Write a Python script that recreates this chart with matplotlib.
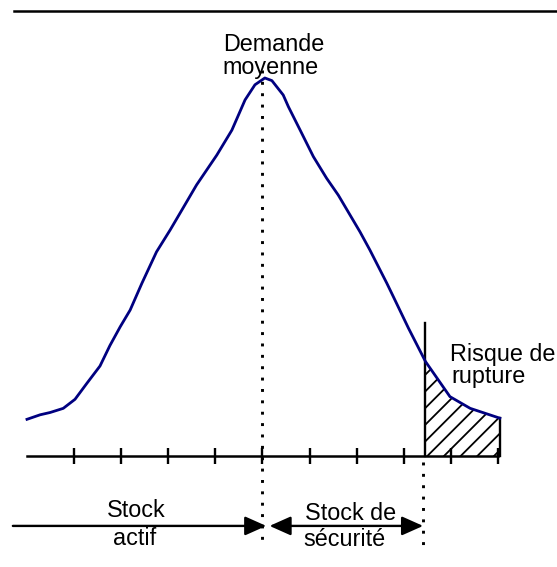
import numpy as np
import matplotlib
matplotlib.use('Agg')
import matplotlib.pyplot as plt

# Courbe de demande (unités de stock sur x, densité relative sur y)
demand_x = [0.0, 0.28, 0.49, 0.77, 1.02, 1.27, 1.55, 1.76, 1.98, 2.19, 2.44,
            2.75, 3.04, 3.29, 3.60, 4.03, 4.35, 4.63, 4.84, 5.05, 5.20, 5.44,
            5.55, 5.80, 6.08, 6.36, 6.61, 7.07, 7.28, 7.64, 7.78, 8.10, 8.46,
            8.98, 9.41, 10.04]
demand_y = [9.7, 10.9, 11.5, 12.6, 15.0, 19.2, 23.8, 29.2, 34.2, 38.6, 45.7,
            54.0, 59.8, 65.1, 71.7, 79.6, 86.2, 94.2, 98.2, 100.0, 99.3, 95.5,
            92.4, 86.2, 79.2, 73.5, 69.0, 59.3, 54.5, 45.7, 42.1, 33.8, 25.0,
            15.7, 12.6, 10.0]

tick_positions = [1, 2, 3, 4, 5, 6, 7, 8, 9, 10]
mean_demand = 5.0
safety_limit = 8.41
rupture_start = 8.46

label_mean = ["Demande", "moyenne"]
label_risk = ["Risque de", "rupture"]
label_active = ["Stock", "actif"]
label_safety = ["Stock de", "sécurité"]

plt.rcParams['font.family'] = ['Liberation Sans', 'DejaVu Sans']
plt.rcParams['hatch.linewidth'] = 1.3
fig = plt.figure(figsize=(5.57, 5.67), dpi=100)
ax = fig.add_axes([0, 0, 1, 1])
ax.set_xlim(-0.573, 11.253)
ax.set_ylim(-29.37, 120.63)
ax.axis('off')

fs = 16.8
navy = '#000080'

# ligne du haut
ax.plot([-0.28, 11.3], [117.8, 117.8], color='black', lw=1.8, clip_on=False)

# zone hachurée (risque de rupture)
dx = np.array(demand_x)
dy = np.array(demand_y)
mask = dx > rupture_start
hx = np.concatenate([[rupture_start], dx[mask]])
hy = np.concatenate([[np.interp(rupture_start, dx, dy)], dy[mask]])
ax.fill_between(hx, 0, hy, facecolor='none', edgecolor='black', hatch='//',
                linewidth=0)
ax.plot([hx[-1], hx[-1]], [0, hy[-1]], color='black', lw=1.7)
ax.plot([rupture_start, rupture_start], [0, 35.2], color='black', lw=1.7)

# courbe
ax.plot(demand_x, demand_y, color=navy, lw=2.0, solid_joinstyle='round')

# axe horizontal et graduations
ax.plot([0, tick_positions[-1]], [0, 0], color='black', lw=1.8)
ax.plot(tick_positions, [0] * len(tick_positions), ls='none', marker='|',
        ms=11.5, mew=1.7, color='black')

# lignes pointillées
dot = (0, (1, 2.9))
ax.plot([mean_demand, mean_demand], [102.1, -22.2], color='black', lw=2.1,
        ls=dot, dash_capstyle='butt')
ax.plot([safety_limit, safety_limit], [-1.6, -25.7], color='black', lw=2.1,
        ls=dot, dash_capstyle='butt')

# flèches
arrow_y = -18.5
ax.annotate('', xy=(mean_demand + 0.08, arrow_y), xytext=(-0.3, arrow_y),
            arrowprops=dict(arrowstyle='-|>,head_length=13,head_width=5.8',
                            color='black', lw=1.7,
                            mutation_scale=1, shrinkA=0, shrinkB=0))
ax.annotate('', xy=(safety_limit, arrow_y), xytext=(mean_demand + 0.15, arrow_y),
            arrowprops=dict(arrowstyle='<|-|>,head_length=13,head_width=5.8',
                            color='black', lw=1.7, mutation_scale=1,
                            shrinkA=0, shrinkB=0))

# textes
ax.text(5.24, 107.1, label_mean[0], fontsize=fs, ha='center', va='baseline')
ax.text(5.18, 101.1, label_mean[1], fontsize=fs, ha='center', va='baseline')
ax.text(8.98, 25.0, label_risk[0], fontsize=fs, ha='left', va='baseline')
ax.text(9.02, 19.3, label_risk[1], fontsize=fs, ha='left', va='baseline')
ax.text(2.31, -16.2, label_active[0], fontsize=fs, ha='center', va='baseline')
ax.text(2.29, -23.5, label_active[1], fontsize=fs, ha='center', va='baseline')
ax.text(6.86, -16.9, label_safety[0], fontsize=fs, ha='center', va='baseline')
ax.text(6.75, -23.8, label_safety[1], fontsize=fs, ha='center', va='baseline')

fig.savefig('out.png', dpi=100)
